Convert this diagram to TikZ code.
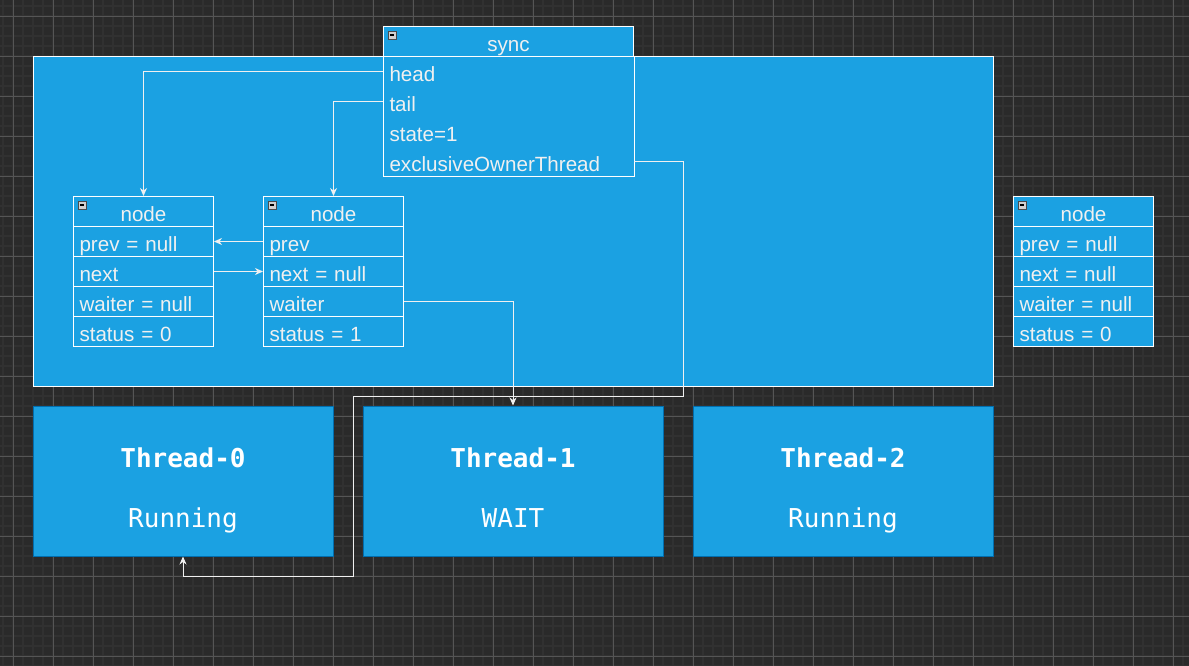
\documentclass[tikz,border=0pt]{standalone}
\usepackage{fontspec}
\setmainfont{Liberation Sans}
\setmonofont{DejaVu Sans Mono}
\usetikzlibrary{arrows.meta}

\definecolor{bgdark}{HTML}{2A2A2A}
\definecolor{gridminor}{HTML}{313131}
\definecolor{gridmajor}{HTML}{555555}
\definecolor{fillblue}{HTML}{1BA1E2}
\definecolor{edgeblue}{HTML}{006EAF}
\definecolor{txt}{HTML}{F0F0F0}

\tikzset{
  panel/.style={draw=white, fill=fillblue, line width=1pt, inner sep=0pt, anchor=north west},
  classhead/.style={panel, text=txt, font=\fontsize{20.6}{24}\selectfont, text height=20pt, text depth=0pt, minimum height=30pt},
  field/.style={classhead, align=left, inner xsep=6pt, text width=128pt},
  thread/.style={draw=edgeblue, fill=fillblue, line width=1pt, minimum width=300pt, minimum height=150pt, inner sep=0pt},
  threadtxt/.style={text=white, font=\ttfamily\fontsize{26}{30}\selectfont, anchor=base, inner sep=0pt},
  toggle/.style={draw=gray!60!black, fill=gray!35, line width=0.6pt, minimum size=8pt, inner sep=0pt,
    path picture={\draw[black, line width=1.2pt] ([xshift=1.8pt]path picture bounding box.west) -- ([xshift=-1.8pt]path picture bounding box.east);}},
  link/.style={draw=txt, line width=1pt, -{Stealth[length=8pt, width=7pt, inset=2.5pt]}}
}

\begin{document}
\begin{tikzpicture}[x=1pt, y=-1pt]

\useasboundingbox (0,0) rectangle (1189,666);
\fill[bgdark] (0,0) rectangle (1189,666);

% grid
\foreach \x in {3,13,...,1189}
    \draw[gridminor, line width=1.5pt] (\x,0) -- (\x,666);
\foreach \y in {6,16,...,666}
    \draw[gridminor, line width=1.5pt] (0,\y) -- (1189,\y);
\foreach \x in {13,53,...,1189}
    \draw[gridmajor, line width=0.8pt] (\x,0) -- (\x,666);
\foreach \y in {16,56,...,666}
    \draw[gridmajor, line width=0.8pt] (0,\y) -- (1189,\y);

% lock container
\node[panel, minimum width=960pt, minimum height=330pt] (aqs) at (33,56) {};

% sync
\node[classhead, minimum width=250pt] (sync) at (383,26) {sync};
\foreach \f/\t [count=\i from 0] in {head/head, tail/tail, state/state=1, owner/exclusiveOwnerThread}
    \node[field, draw=none, text width=238pt] (sync-\f) at (383,{56+30*\i}) {\t};
\draw[white, line width=1pt] (sync.south west) rectangle (sync-owner.south east);

% queue nodes
\foreach \bx/\nm/\pv/\nx/\wt/\st in {73/n1/prev = null/next/waiter = null/status = 0,
                                     263/n2/prev/next = null/waiter/status = 1,
                                     1013/n3/prev = null/next = null/waiter = null/status = 0} {
    \node[classhead, minimum width=140pt] (\nm) at (\bx,196) {node};
    \foreach \f/\t [count=\i] in {prev/\pv, next/\nx, waiter/\wt, status/\st}
        \node[field] (\nm-\f) at (\bx,{196+30*\i}) {\t};
}

\foreach \nm in {sync,n1,n2,n3}
    \node[toggle] (\nm-tog) at ([xshift=9pt, yshift=-9pt]\nm.north west) {};

% threads
\foreach \cx/\i/\st in {183/0/Running, 513/1/WAIT, 843/2/Running} {
    \node[thread] (t\i) at (\cx,481) {};
    \node[threadtxt, font=\ttfamily\bfseries\fontsize{26}{30}\selectfont] (t\i-name) at (\cx,467) {Thread-\i};
    \node[threadtxt] (t\i-state) at (\cx,527) {\st};
}

% links
\coordinate (bendA) at (683,396);
\coordinate (bendB) at (353,576);

\draw[link] (sync-head.west) -| (n1.north);
\draw[link] (sync-tail.west) -| (n2.north);
\draw[link] (n2-prev.west) -- (n1-prev.east);
\draw[link] (n1-next.east) -- (n2-next.west);
\draw[link] (n2-waiter.east) -| (t1.north);
\draw[link] (sync-owner.east) -| (bendA) -| (bendB) -| (t0.south);

\end{tikzpicture}
\end{document}
